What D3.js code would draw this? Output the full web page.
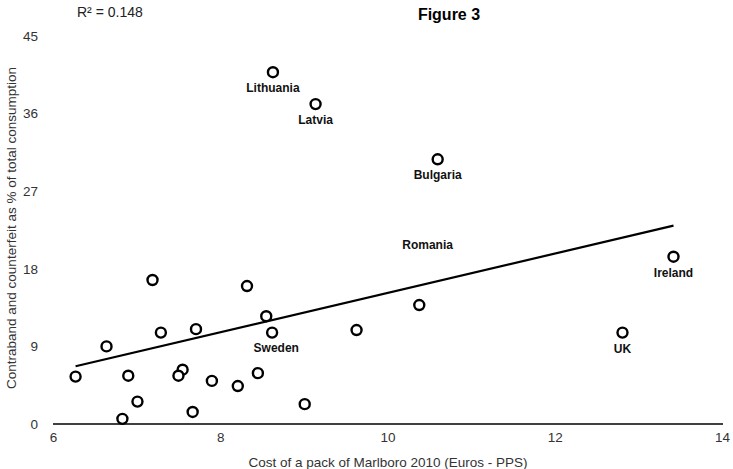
<!DOCTYPE html>
<html>
<head>
<meta charset="utf-8">
<script src="https://cdn.jsdelivr.net/npm/d3@7"></script>
<style>
  body { margin: 0; background: #fff; }
  text { font-family: "Liberation Sans", Arial, sans-serif; }
</style>
</head>
<body>
<svg id="chart" width="733" height="469"></svg>
<script>
// cost of a pack (euros PPS) vs contraband share (%)
var price = [8.63, 9.14, 10.6, 13.42, 12.81, 10.38, 9.63, 9.01, 8.62, 8.55, 8.32, 8.45, 8.21,
             7.9, 7.71, 7.67, 7.55, 7.5, 7.29, 7.19, 7.01, 6.9, 6.83, 6.64, 6.27];
var share = [40.8, 37.1, 30.7, 19.4, 10.6, 13.8, 10.9, 2.3, 10.6, 12.5, 16.0, 5.9, 4.4,
             5.0, 11.0, 1.4, 6.3, 5.6, 10.6, 16.7, 2.6, 5.6, 0.6, 9.0, 5.5];

var labelNames = ["Lithuania", "Latvia", "Bulgaria", "Romania", "Ireland", "UK", "Sweden"];
var labelX = [8.63, 9.14, 10.6, 10.48, 13.42, 12.81, 8.67];
var labelY = [40.8, 37.1, 30.7, 22.6, 19.4, 10.6, 10.7];

var trendX = [6.27, 13.42];
var trendY = [6.7, 23.0];

var xTicks = [6, 8, 10, 12, 14];
var yTicks = [0, 9, 18, 27, 36, 45];

var svg = d3.select("#chart");

var x = d3.scaleLinear().domain([6, 14]).range([53, 722]);
var y = d3.scaleLinear().domain([0, 45]).range([424, 36]);

// baseline only, no y axis line
svg.append("line")
  .attr("x1", 53).attr("x2", 723)
  .attr("y1", y(0)).attr("y2", y(0))
  .attr("stroke", "#000").attr("stroke-width", 1.3);

var xAxis = svg.append("g")
  .attr("transform", "translate(0," + y(0) + ")")
  .call(d3.axisBottom(x).tickValues(xTicks).tickSize(0).tickPadding(8));
xAxis.select(".domain").remove();
xAxis.selectAll("text").attr("font-size", 13.5).attr("fill", "#333")
  .attr("font-family", "Liberation Sans, Arial, sans-serif");

var yAxis = svg.append("g")
  .attr("transform", "translate(42,0)")
  .call(d3.axisLeft(y).tickValues(yTicks).tickSize(0).tickPadding(4));
yAxis.select(".domain").remove();
yAxis.selectAll("text").attr("font-size", 13.5).attr("fill", "#333")
  .attr("font-family", "Liberation Sans, Arial, sans-serif");

// trend line
svg.append("line")
  .attr("x1", x(trendX[0])).attr("y1", y(trendY[0]))
  .attr("x2", x(trendX[1])).attr("y2", y(trendY[1]))
  .attr("stroke", "#000").attr("stroke-width", 2.2);

svg.selectAll(".pt")
  .data(d3.range(price.length))
  .enter().append("circle")
  .attr("class", "pt")
  .attr("cx", function(i) { return x(price[i]); })
  .attr("cy", function(i) { return y(share[i]); })
  .attr("r", 5)
  .attr("fill", "#fff")
  .attr("stroke", "#000")
  .attr("stroke-width", 2.4);

svg.selectAll(".lbl")
  .data(d3.range(labelNames.length))
  .enter().append("text")
  .attr("class", "lbl")
  .attr("x", function(i) { return x(labelX[i]); })
  .attr("y", function(i) { return y(labelY[i]) + 20; })
  .attr("text-anchor", "middle")
  .attr("font-size", 12)
  .attr("font-weight", "bold")
  .attr("fill", "#111")
  .text(function(i) { return labelNames[i]; });

svg.append("text")
  .attr("x", 449).attr("y", 20)
  .attr("text-anchor", "middle")
  .attr("font-size", 16).attr("font-weight", "bold")
  .text("Figure 3");

svg.append("text")
  .attr("x", 77).attr("y", 17)
  .attr("font-size", 14).attr("fill", "#222")
  .text("R² = 0.148");

svg.append("text")
  .attr("x", 388).attr("y", 467)
  .attr("text-anchor", "middle")
  .attr("font-size", 13.5).attr("fill", "#333")
  .text("Cost of a pack of Marlboro 2010 (Euros - PPS)");

svg.append("text")
  .attr("transform", "translate(16,228) rotate(-90)")
  .attr("text-anchor", "middle")
  .attr("font-size", 13.5).attr("fill", "#333")
  .text("Contraband and counterfeit as % of total consumption");
</script>
</body>
</html>
